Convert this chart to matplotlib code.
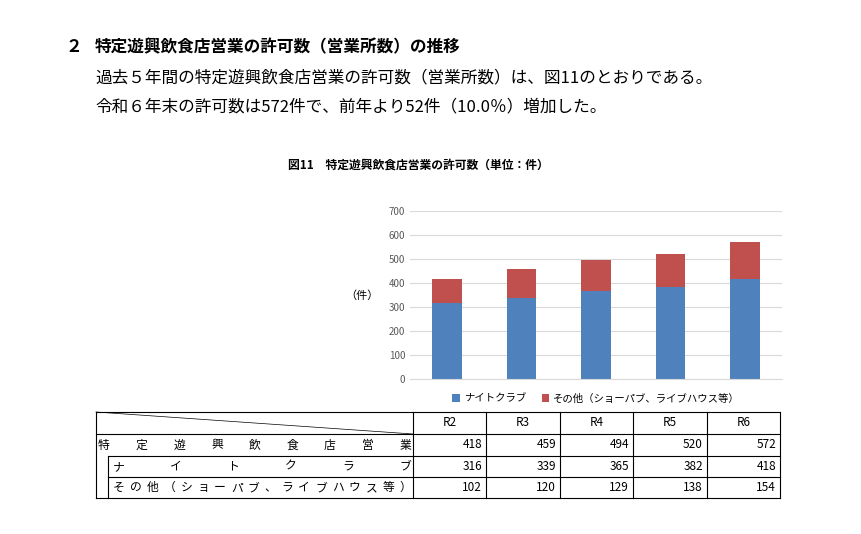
import matplotlib
matplotlib.use("Agg")
import matplotlib.pyplot as plt
import numpy as np

plt.rcParams['font.family'] = ['Noto Sans CJK JP', 'DejaVu Sans']

years = ['R2', 'R3', 'R4', 'R5', 'R6']
night = [316, 339, 365, 382, 418]
other = [102, 120, 129, 138, 154]
total = [a + b for a, b in zip(night, other)]
row_labels = ['特定遊興飲食店営業', 'ナイトクラブ', 'その他（ショーパブ、ライブハウス等）']
blue = '#4F81BD'
red = '#C0504D'

W, H = 862, 534
fig = plt.figure(figsize=(W / 100, H / 100), dpi=100)

# page overlay in pixel coords
page = fig.add_axes([0, 0, 1, 1])
page.set_xlim(0, W)
page.set_ylim(H, 0)
page.axis('off')

page.text(65, 47, '２', fontsize=12, va='center', fontweight='bold')
page.text(95, 47, '特定遊興飲食店営業の許可数（営業所数）の推移', fontsize=12, va='center', fontweight='bold')
page.text(95, 78, '過去５年間の特定遊興飲食店営業の許可数（営業所数）は、図11のとおりである。', fontsize=12, va='center')
page.text(95, 107, '令和６年末の許可数は572件で、前年より52件（10.0％）増加した。', fontsize=12, va='center')
page.text(418, 165, '図11　特定遊興飲食店営業の許可数（単位：件）', fontsize=8.5, fontweight='bold', ha='center', va='center')
page.text(362, 296, '（件）', fontsize=8, ha='center', va='center')

# chart
ax = fig.add_axes([410 / W, 1 - 379 / H, 372 / W, 168 / H])
x = np.arange(len(years))
ax.bar(x, night, width=0.4, color=blue, label='ナイトクラブ')
ax.bar(x, other, width=0.4, bottom=night, color=red, label='その他（ショーパブ、ライブハウス等）')
ax.set_ylim(0, 700)
ax.set_yticks(range(0, 701, 100))
ax.set_xlim(-0.5, len(years) - 0.5)
ax.set_xticks([])
ax.tick_params(axis='y', labelsize=7, length=0, colors='#595959')
ax.grid(axis='y', color='#D9D9D9', lw=0.8)
ax.set_axisbelow(True)
for s in ['top', 'right', 'left']:
    ax.spines[s].set_visible(False)
ax.spines['bottom'].set_color('#D9D9D9')
ax.legend(loc='upper center', bbox_to_anchor=(0.5, -0.03), ncol=2, frameon=False,
          fontsize=7.5, handlelength=0.7, handleheight=0.7, columnspacing=1.5, handletextpad=0.4)

# table
xs = [96, 413, 486, 560, 633, 707, 780]
ys = [412, 434, 456, 477, 498]
lk = dict(color='black', lw=0.8)
page.plot([96, 780], [412, 412], **lk)
page.plot([96, 780], [434, 434], **lk)
page.plot([96, 780], [498, 498], **lk)
page.plot([108, 780], [456, 456], **lk)
page.plot([108, 780], [477, 477], **lk)
page.plot([96, 96], [412, 498], **lk)
page.plot([108, 108], [456, 498], **lk)
for xv in xs[1:]:
    page.plot([xv, xv], [412, 498], **lk)
page.plot([96, 413], [412, 434], color='black', lw=0.5)
for i, yr in enumerate(years):
    page.text((xs[i + 1] + xs[i + 2]) / 2, 423, yr, fontsize=8.5, ha='center', va='center')

spans = [(104, 405), (119, 405), (119, 405)]
for r, lab in enumerate(row_labels):
    yc = (ys[r + 1] + ys[r + 2]) / 2
    a, b = spans[r]
    n = len(lab)
    step = (b - a) / (n - 1)
    for k, ch in enumerate(lab):
        page.text(a + k * step, yc, ch, fontsize=8.5, ha='center', va='center')
for r, vals in enumerate([total, night, other]):
    yc = (ys[r + 1] + ys[r + 2]) / 2
    for i, v in enumerate(vals):
        page.text(xs[i + 2] - 4, yc, str(v), fontsize=8.5, ha='right', va='center')

fig.savefig('out.png', dpi=100)
